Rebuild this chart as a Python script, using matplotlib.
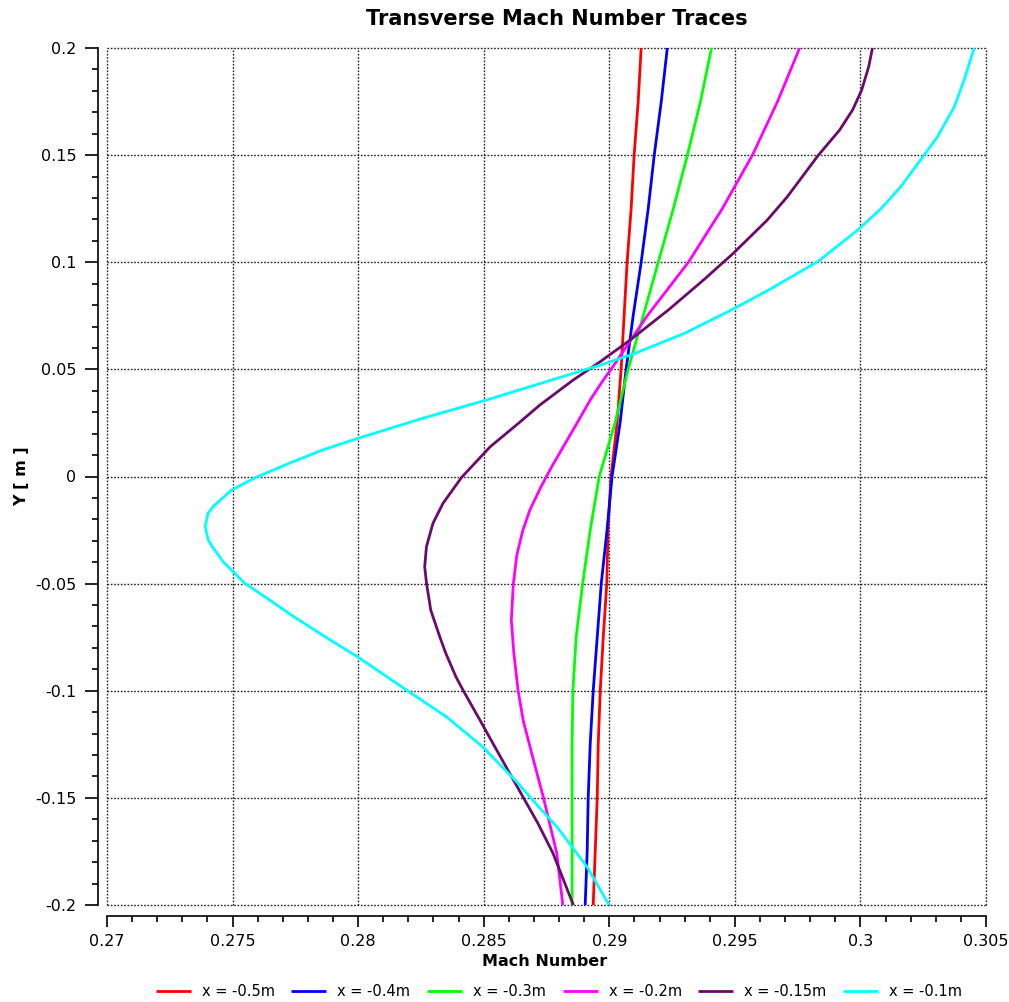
import matplotlib
matplotlib.use('Agg')
import matplotlib.pyplot as plt
from matplotlib.ticker import FixedLocator, FixedFormatter, MultipleLocator

plt.rcParams['font.family'] = ['DejaVu Sans']
plt.rcParams['axes.unicode_minus'] = False

# ---------------- data ----------------
y_common = [0.2, 0.175, 0.15, 0.125, 0.1, 0.075, 0.05, 0.025, 0.0,
            -0.025, -0.05, -0.075, -0.1, -0.125, -0.15, -0.175, -0.2]

m_red = [0.29127, 0.29115, 0.29099, 0.29087, 0.29071, 0.29059, 0.29047, 0.29031, 0.29007,
         0.28995, 0.28990, 0.28976, 0.28964, 0.28956, 0.28952, 0.28944, 0.28936]
m_blue = [0.29231, 0.29207, 0.29179, 0.29155, 0.29127, 0.29095, 0.29067, 0.29043, 0.29011,
          0.28991, 0.28968, 0.28952, 0.28936, 0.28924, 0.28916, 0.28912, 0.28904]
m_green = [0.29407, 0.29363, 0.29311, 0.29255, 0.29195, 0.29135, 0.29075, 0.29023, 0.28960,
           0.28924, 0.28894, 0.28868, 0.28855, 0.28852, 0.28852, 0.28852, 0.28852]

y_magenta = [0.2, 0.175, 0.15, 0.125, 0.1, 0.075, 0.05, 0.045, 0.0357, 0.0248, 0.0139,
             0.0046, -0.0048, -0.0156, -0.025, -0.0366, -0.05, -0.067, -0.0825, -0.1,
             -0.1137, -0.1292, -0.1495, -0.1759, -0.2]
m_magenta = [0.29758, 0.29670, 0.29570, 0.29450, 0.29315, 0.29151, 0.29007, 0.28976, 0.28924,
             0.28871, 0.28817, 0.28771, 0.28728, 0.28684, 0.28656, 0.28632, 0.28618, 0.28610,
             0.28620, 0.28637, 0.28657, 0.28691, 0.28737, 0.28791, 0.28815]

y_purple = [0.2, 0.1913, 0.1804, 0.1711, 0.1617, 0.1496, 0.1306, 0.1197, 0.1042, 0.0917,
            0.0777, 0.0637, 0.0536, 0.0450, 0.0334, 0.0250, 0.0138, -0.0004, -0.0125,
            -0.0218, -0.0328, -0.0421, -0.0496, -0.0623, -0.0748, -0.0825, -0.0934, -0.1,
            -0.1137, -0.1261, -0.1370, -0.1495, -0.1619, -0.1759, -0.2]
m_purple = [0.30048, 0.30033, 0.30005, 0.29969, 0.29917, 0.29830, 0.29709, 0.29629, 0.29494,
            0.29375, 0.29235, 0.29083, 0.28964, 0.28856, 0.28724, 0.28640, 0.28525, 0.28412,
            0.28338, 0.28298, 0.28272, 0.28265, 0.28272, 0.28289, 0.28325, 0.28349, 0.28389,
            0.28419, 0.28485, 0.28544, 0.28596, 0.28656, 0.28716, 0.28776, 0.28857]

y_cyan = [0.2, 0.1851, 0.1726, 0.1586, 0.1496, 0.1353, 0.1249, 0.1150, 0.1003, 0.0870,
          0.0777, 0.0668, 0.0572, 0.0520, 0.0357, 0.0272, 0.0178, 0.0124, 0.0062, -0.0004,
          -0.0063, -0.0141, -0.0172, -0.0234, -0.0296, -0.0320, -0.0399, -0.0497, -0.0576,
          -0.0656, -0.0749, -0.0842, -0.1, -0.1123, -0.1263, -0.1431, -0.1496, -0.1636,
          -0.1823, -0.2]
m_cyan = [0.30453, 0.30413, 0.30374, 0.30307, 0.30251, 0.30161, 0.30081, 0.29989, 0.29830,
          0.29634, 0.29486, 0.29299, 0.29096, 0.28964, 0.28511, 0.28258, 0.27999, 0.27859,
          0.27726, 0.27593, 0.27496, 0.27422, 0.27402, 0.27391, 0.27403, 0.27415, 0.27463,
          0.27547, 0.27647, 0.27746, 0.27870, 0.27998, 0.28197, 0.28353, 0.28497, 0.28636,
          0.28684, 0.28792, 0.28912, 0.28999]

series_labels = ['x = -0.5m', 'x = -0.4m', 'x = -0.3m', 'x = -0.2m', 'x = -0.15m', 'x = -0.1m']
series_colors = ['#ff0000', '#0000ff', '#00ff00', '#ff00ff', '#6a0a6a', '#00ffff']

x_ticks = [0.27, 0.275, 0.28, 0.285, 0.29, 0.295, 0.3, 0.305]
x_tick_labels = ['0.27', '0.275', '0.28', '0.285', '0.29', '0.295', '0.3', '0.305']
y_ticks = [-0.2, -0.15, -0.1, -0.05, 0.0, 0.05, 0.1, 0.15, 0.2]
y_tick_labels = ['-0.2', '-0.15', '-0.1', '-0.05', '0', '0.05', '0.1', '0.15', '0.2']

title = 'Transverse Mach Number Traces'
x_label = 'Mach Number'
y_label = 'Y [ m ]'

# ---------------- figure ----------------
W, H = 1009, 1002
fig = plt.figure(figsize=(W / 100, H / 100), dpi=100)
ax = fig.add_axes([107 / W, (H - 905) / H, 879 / W, 857 / H])

series = [(y_common, m_red), (y_common, m_blue), (y_common, m_green),
          (y_magenta, m_magenta), (y_purple, m_purple), (y_cyan, m_cyan)]
handles = []
for (yy, mm), c, lab in zip(series, series_colors, series_labels):
    h, = ax.plot(mm, yy, color=c, lw=2.0, label=lab, solid_joinstyle='round',
                 solid_capstyle='butt', zorder=3)
    handles.append(h)

ax.set_xlim(0.27, 0.305)
ax.set_ylim(-0.2, 0.2)

ax.xaxis.set_major_locator(FixedLocator(x_ticks))
ax.xaxis.set_major_formatter(FixedFormatter(x_tick_labels))
ax.xaxis.set_minor_locator(MultipleLocator(0.001))
ax.yaxis.set_major_locator(FixedLocator(y_ticks))
ax.yaxis.set_major_formatter(FixedFormatter(y_tick_labels))
ax.yaxis.set_minor_locator(MultipleLocator(0.01))

for s in ['top', 'right']:
    ax.spines[s].set_visible(False)
ax.spines['left'].set_position(('outward', 6.5))
ax.spines['bottom'].set_position(('outward', 8))
for s in ['left', 'bottom']:
    ax.spines[s].set_linewidth(1.2)
    ax.spines[s].set_color('black')

ax.tick_params(axis='y', which='major', direction='out', length=9.4, width=1.2,
               labelsize=11.5, pad=6)
ax.tick_params(axis='y', which='minor', direction='out', length=4.5, width=1.2)
ax.tick_params(axis='x', which='major', direction='out', length=8, width=1.2,
               labelsize=11.5, pad=5)
ax.tick_params(axis='x', which='minor', direction='out', length=4.5, width=1.2)

ax.grid(True, which='major', color='#222222', linestyle=(0, (1.2, 1.2)), linewidth=1.0, zorder=1)
ax.set_axisbelow(True)
for gl in ax.get_xgridlines() + ax.get_ygridlines():
    gl.set_clip_on(False)

fig.text(557 / W, 1 - 19 / H, title, ha='center', va='center', fontsize=15, fontweight='bold')
fig.text(545 / W, 1 - 962 / H, x_label, ha='center', va='center', fontsize=11.5, fontweight='bold')
fig.text(22 / W, 1 - 476 / H, y_label, ha='center', va='center', fontsize=11.5,
         fontweight='bold', rotation=90)

fig.legend(handles=handles, labels=series_labels, loc='center',
           bbox_to_anchor=(559 / W, 1 - 992 / H), ncol=6, frameon=False, fontsize=10.5,
           handlelength=2.4, handletextpad=0.75, columnspacing=1.15)

fig.savefig('out.png', dpi=100, facecolor='white')
